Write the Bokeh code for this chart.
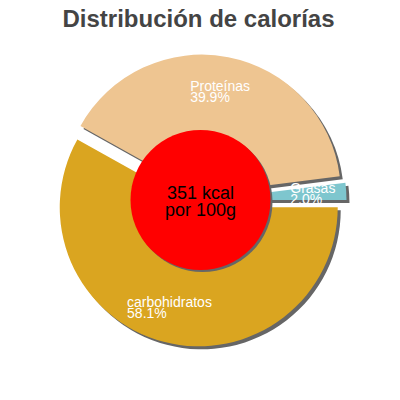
import math
from bokeh.plotting import figure
from bokeh.models import Range1d
from bokeh.core.properties import value
from bokeh.embed import file_html
from bokeh.resources import INLINE

# ---- data ----
categories = ["Proteínas", "Grasas", "carbohidratos"]
percentages = [39.9, 2.0, 58.1]
colors = ["#EEC591", "#7EC6CE", "#DAA520"]
title_text = "Distribución de calorías"
center_lines = ["351 kcal", "por 100g"]

# ---- layout constants (screen pixels, 1 data unit = 1 px) ----
CX, CY = 200.0, 200.0
R = 139.0
EXPLODE = 7.0
SHADOW = 3.0
LABEL_R = 104.0
LABEL_FS = 14
INNER_R = 70.0

p = figure(width=384, height=384, output_backend="svg", toolbar_location=None,
           x_range=Range1d(0, 384), y_range=Range1d(-384, 0),
           min_border=0, outline_line_color=None)
p.axis.visible = False
p.grid.visible = False
p.background_fill_color = "white"
p.border_fill_color = "white"

# slice order: Grasas starts at east, going anticlockwise: Grasas, Proteínas, then carbohidratos
order = [1, 0, 2]
angles = {}
a = 0.0
for i in order:
    span = percentages[i] / 100.0 * 2 * math.pi
    angles[i] = (a, a + span)
    a += span

slices = []
for i in order:
    s, e = angles[i]
    mid = (s + e) / 2
    ox = CX + EXPLODE * math.cos(mid)
    oy = -CY + EXPLODE * math.sin(mid)
    slices.append((i, s, e, mid, ox, oy))

# shadows
for i, s, e, mid, ox, oy in slices:
    p.wedge(x=ox + SHADOW, y=oy - SHADOW, radius=R, start_angle=s, end_angle=e,
            fill_color="#666666", line_color=None)
# slices
for i, s, e, mid, ox, oy in slices:
    p.wedge(x=ox, y=oy, radius=R, start_angle=s, end_angle=e,
            fill_color=colors[i], line_color=None)

# center circle
p.circle(x=CX + 2, y=-CY + 0.5 - 2, radius=INNER_R, fill_color="#666666", line_color=None)
p.circle(x=CX, y=-CY + 0.5, radius=INNER_R, fill_color="#FF0000", line_color=None)

# slice labels
for i, s, e, mid, ox, oy in slices:
    lx = ox + LABEL_R * math.cos(mid)
    ly = oy + LABEL_R * math.sin(mid)
    line1 = categories[i]
    line2 = f"{percentages[i]:.1f}%"
    w = max(len(line1), len(line2)) * 0.5 * LABEL_FS
    left = lx - w / 2
    p.text(x=[left], y=[ly + 6], text=[line1], text_color="white",
           text_font=value("Liberation Sans"), text_font_size=f"{LABEL_FS}px",
           text_align="left", text_baseline="alphabetic")
    p.text(x=[left], y=[ly - 5.5], text=[line2], text_color="white",
           text_font=value("Liberation Sans"), text_font_size=f"{LABEL_FS}px",
           text_align="left", text_baseline="alphabetic")

# center text
p.text(x=[CX], y=[-192], text=[center_lines[0]], text_color="black",
       text_font=value("Liberation Sans"), text_font_size="18px",
       text_align="center", text_baseline="alphabetic")
p.text(x=[CX], y=[-209.5], text=[center_lines[1]], text_color="black",
       text_font=value("Liberation Sans"), text_font_size="18px",
       text_align="center", text_baseline="alphabetic")

# title
p.text(x=[198], y=[-17.5], text=[title_text], text_color="#444444",
       text_font=value("Liberation Sans"), text_font_size="24px", text_font_style="bold",
       text_align="center", text_baseline="alphabetic")

open("out.html", "w").write(file_html(p, INLINE))
